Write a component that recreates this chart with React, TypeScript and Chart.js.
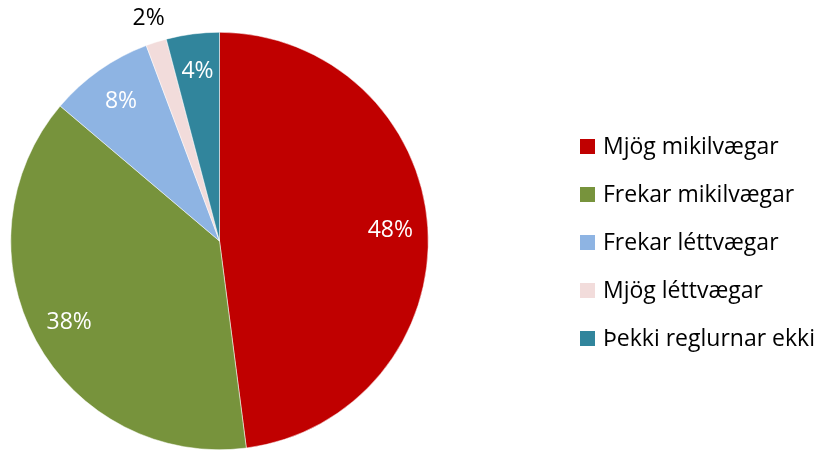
import React, { useEffect, useRef } from "react";
import { Chart, registerables } from "chart.js";

Chart.register(...registerables);

const categories = [
  "Mjög mikilvægar",
  "Frekar mikilvægar",
  "Frekar léttvægar",
  "Mjög léttvægar",
  "Þekki reglurnar ekki",
];
const values = [47.9, 38.2, 8.1, 1.6, 4.1];
const shownLabels = ["48%", "38%", "8%", "2%", "4%"];
const colors = ["#C00000", "#77933C", "#8EB4E3", "#F2DCDB", "#31859C"];
const labelInside = [true, true, true, false, true];

const FONT = "'Open Sans', sans-serif";

const labelPlugin = {
  id: "sliceLabels",
  afterDatasetsDraw(chart: any) {
    const ctx = chart.ctx;
    const meta = chart.getDatasetMeta(0);
    ctx.save();
    ctx.font = `23px ${FONT}`;
    ctx.textAlign = "center";
    ctx.textBaseline = "middle";
    meta.data.forEach((arc: any, i: number) => {
      const { x, y, startAngle, endAngle, outerRadius } = arc.getProps(
        ["x", "y", "startAngle", "endAngle", "outerRadius"],
        true
      );
      const mid = (startAngle + endAngle) / 2;
      const inside = labelInside[i];
      const r = inside ? outerRadius * 0.82 : outerRadius * 1.12;
      ctx.fillStyle = inside ? "#FFFFFF" : "#000000";
      ctx.fillText(shownLabels[i], x + Math.cos(mid) * r, y + Math.sin(mid) * r);
    });
    ctx.restore();
  },
};

const legendPlugin = {
  id: "customLegend",
  afterDraw(chart: any) {
    const ctx = chart.ctx;
    ctx.save();
    ctx.font = `23px ${FONT}`;
    ctx.textBaseline = "middle";
    ctx.textAlign = "left";
    const x0 = 580;
    const y0 = 146.5;
    const step = 48;
    chart.data.labels.forEach((lab: string, i: number) => {
      const cy = y0 + i * step;
      ctx.fillStyle = chart.data.datasets[0].backgroundColor[i];
      ctx.fillRect(x0, cy - 7.5, 15, 15);
      ctx.fillStyle = "#000000";
      ctx.fillText(lab, x0 + 23, cy + 1);
    });
    ctx.restore();
  },
};

export default function App() {
  const ref = useRef<HTMLCanvasElement | null>(null);
  useEffect(() => {
    if (!ref.current) return;
    const chart = new Chart(ref.current, {
      type: "pie",
      data: {
        labels: categories,
        datasets: [
          {
            data: values,
            backgroundColor: colors,
            borderColor: "#FFFFFF",
            borderWidth: 0.5,
            hoverOffset: 0,
          },
        ],
      },
      options: {
        responsive: false,
        animation: false,
        layout: { padding: { top: 32, bottom: 0, left: 10, right: 387 } },
        plugins: {
          legend: { display: false },
          tooltip: { enabled: false },
        },
      },
      plugins: [labelPlugin, legendPlugin],
    });
    return () => chart.destroy();
  }, []);
  return (
    <div style={{ position: "fixed", left: 0, top: 0, width: 816, height: 450, background: "#fff" }}>
      <canvas ref={ref} width={816} height={450} />
    </div>
  );
}
